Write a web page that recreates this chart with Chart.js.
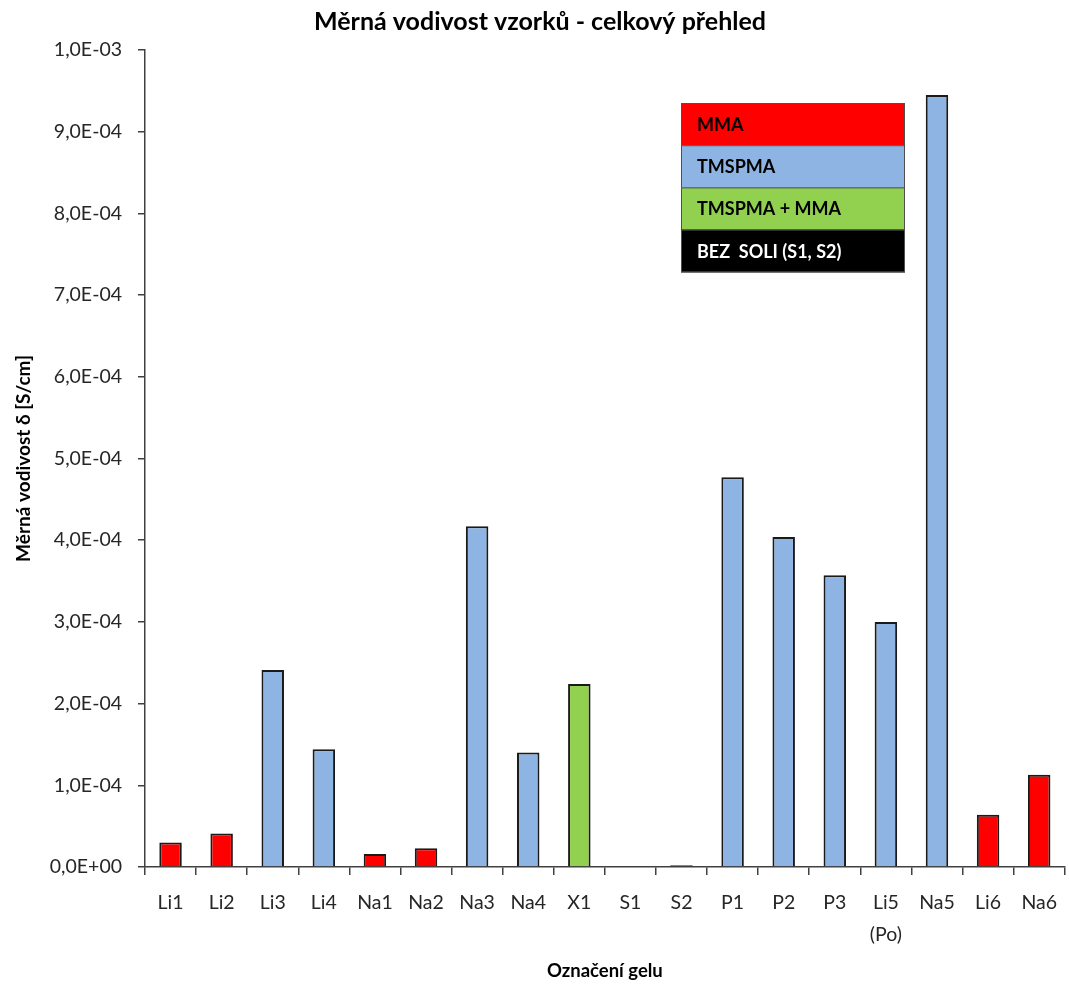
<!DOCTYPE html>
<html lang="cs">
<head>
<meta charset="utf-8">
<title>Měrná vodivost vzorků</title>
<script src="https://cdn.jsdelivr.net/npm/chart.js@4"></script>
<style>
  html, body { margin: 0; padding: 0; background: #ffffff; }
  #wrap { width: 1069px; height: 984px; }
</style>
</head>
<body>
<div id="wrap"><canvas id="chart" width="1069" height="984"></canvas></div>
<script>
// Gel samples and their conductivity [S/cm]
const categories = ['Li1', 'Li2', 'Li3', 'Li4', 'Na1', 'Na2', 'Na3', 'Na4', 'X1', 'S1', 'S2',
                    'P1', 'P2', 'P3', ['Li5', '(Po)'], 'Na5', 'Li6', 'Na6'];
const conductivity = [3.0e-5, 4.1e-5, 2.41e-4, 1.44e-4, 1.6e-5, 2.3e-5, 4.17e-4, 1.40e-4, 2.24e-4,
                      0, 2e-6, 4.77e-4, 4.04e-4, 3.57e-4, 3.0e-4, 9.45e-4, 6.4e-5, 1.13e-4];
// polymer matrix of each sample (index into groupNames)
const sampleGroup = [0, 0, 1, 1, 0, 0, 1, 1, 2, 3, 3, 1, 1, 1, 1, 1, 0, 0];

const groupNames = ['MMA', 'TMSPMA', 'TMSPMA + MMA', 'BEZ  SOLI (S1, S2)'];
const groupColors = ['#ff0000', '#8eb4e3', '#92d050', '#000000'];
const groupTextColors = ['#000000', '#000000', '#000000', '#ffffff'];

const yTickLabels = ['0,0E+00', '1,0E-04', '2,0E-04', '3,0E-04', '4,0E-04', '5,0E-04',
                     '6,0E-04', '7,0E-04', '8,0E-04', '9,0E-04', '1,0E-03'];

const FONT = 'Lato, "Open Sans", "DejaVu Sans", sans-serif';
const AXIS_COLOR = '#404040';

// Stacked colour key drawn as a small table in the upper right
const groupKey = {
  id: 'groupKey',
  afterDraw(chart, args, opts) {
    const ctx = chart.ctx;
    const x = opts.left, w = opts.width, h = opts.rowHeight;
    ctx.save();
    groupNames.forEach((name, i) => {
      const y = opts.top + i * h;
      ctx.fillStyle = groupColors[i];
      ctx.fillRect(x, y, w, h);
      ctx.strokeStyle = '#505050';
      ctx.lineWidth = 1;
      ctx.strokeRect(x + 0.5, y + 0.5, w, h);
      ctx.fillStyle = groupTextColors[i];
      ctx.font = 'bold 18px ' + FONT;
      ctx.textBaseline = 'middle';
      ctx.textAlign = 'left';
      ctx.fillText(name, x + opts.textInset, y + h / 2 + 1);
    });
    ctx.restore();
  }
};

new Chart(document.getElementById('chart'), {
  type: 'bar',
  data: {
    labels: categories,
    datasets: [{
      label: 'Měrná vodivost',
      data: conductivity,
      backgroundColor: sampleGroup.map(g => groupColors[g]),
      borderColor: '#1a1a1a',
      borderWidth: 2,
      borderSkipped: 'start',
      categoryPercentage: 1.0,
      barPercentage: 0.44
    }]
  },
  options: {
    responsive: false,
    animation: false,
    devicePixelRatio: 1,
    layout: { padding: { left: 12, right: 1, top: 0, bottom: 2 } },
    plugins: {
      legend: { display: false },
      tooltip: { enabled: false },
      title: {
        display: true,
        text: 'Měrná vodivost vzorků - celkový přehled',
        color: '#000000',
        font: { family: FONT, size: 25, weight: 'bold', lineHeight: 1.2 },
        padding: { top: 7, bottom: 13 }
      },
      groupKey: { left: 681, top: 103, width: 223, rowHeight: 42.2, textInset: 16 }
    },
    scales: {
      x: {
        offset: true,
        border: { display: true, color: AXIS_COLOR, width: 1.5 },
        grid: {
          display: true, offset: true, drawOnChartArea: false, drawTicks: true,
          tickLength: 8, color: AXIS_COLOR, lineWidth: 1.5
        },
        ticks: {
          color: '#262626',
          font: { family: FONT, size: 19.5, lineHeight: 1.64 },
          padding: 12,
          maxRotation: 0,
          autoSkip: false
        },
        title: {
          display: true,
          text: 'Označení gelu',
          color: '#000000',
          font: { family: FONT, size: 18.5, weight: 'bold', lineHeight: 1.2 },
          padding: 0
        },
        afterFit(scale) { scale.height = 115; }
      },
      y: {
        min: 0,
        max: 1e-3,
        border: { display: true, color: AXIS_COLOR, width: 1.5 },
        grid: {
          display: true, drawOnChartArea: false, drawTicks: true,
          tickLength: 7, color: AXIS_COLOR, lineWidth: 1.5
        },
        ticks: {
          stepSize: 1e-4,
          color: '#262626',
          font: { family: FONT, size: 19.5 },
          padding: 16,
          callback: (value, index) => yTickLabels[index]
        },
        title: {
          display: true,
          text: 'Měrná vodivost δ [S/cm]',
          color: '#000000',
          font: { family: FONT, size: 19, weight: 'bold', lineHeight: 1.2 },
          padding: 0
        },
        afterFit(scale) { scale.width = 133; }
      }
    }
  },
  plugins: [groupKey]
});
</script>
</body>
</html>
